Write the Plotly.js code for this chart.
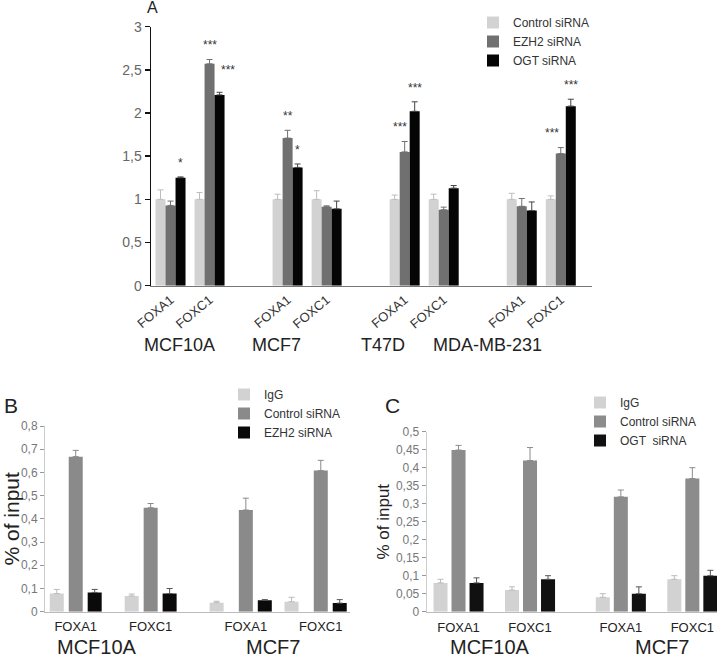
<!DOCTYPE html>
<html>
<head>
<meta charset="utf-8">
<script src="https://cdn.plot.ly/plotly-3.0.1.min.js"></script>
<style>
  html, body { margin: 0; padding: 0; background: #fff; }
  #chart { width: 717px; height: 659px; }
</style>
</head>
<body>
<div id="chart"></div>
<script>
// ---------- Panel A data ----------
const cellLinesA = ['MCF10A', 'MCF7', 'T47D', 'MDA-MB-231'];
const genes = ['FOXA1', 'FOXC1'];
const seriesA = ['Control siRNA', 'EZH2 siRNA', 'OGT siRNA'];
const controlA    = [1.00, 1.00, 1.00, 1.00, 1.00, 1.00, 1.00, 1.00];
const controlAErr = [0.11, 0.08, 0.06, 0.10, 0.05, 0.06, 0.07, 0.04];
const ezh2A       = [0.93, 2.57, 1.71, 0.915, 1.55, 0.88, 0.92, 1.53];
const ezh2AErr    = [0.05, 0.05, 0.09, 0.01, 0.12, 0.03, 0.09, 0.07];
const ogtA        = [1.25, 2.21, 1.37, 0.89, 2.02, 1.13, 0.87, 2.08];
const ogtAErr     = [0.01, 0.03, 0.04, 0.09, 0.11, 0.03, 0.10, 0.08];
const ezh2Sig     = ['', '***', '**', '', '***', '', '', '***'];
const ogtSig      = ['*', '***', '*', '', '***', '', '', '***'];

// ---------- Panel B data ----------
const cellLinesBC = ['MCF10A', 'MCF7'];
const seriesB = ['IgG', 'Control siRNA', 'EZH2 siRNA'];
const iggB     = [0.078, 0.068, 0.039, 0.043];
const iggBErr  = [0.018, 0.008, 0.006, 0.019];
const ctrlB    = [0.668, 0.448, 0.438, 0.608];
const ctrlBErr = [0.027, 0.018, 0.051, 0.044];
const ezh2B    = [0.083, 0.078, 0.049, 0.037];
const ezh2BErr = [0.013, 0.022, 0.003, 0.015];

// ---------- Panel C data ----------
const seriesC = ['IgG', 'Control siRNA', 'OGT  siRNA'];
const iggC     = [0.080, 0.060, 0.040, 0.090];
const iggCErr  = [0.010, 0.009, 0.010, 0.010];
const ctrlC    = [0.449, 0.420, 0.319, 0.370];
const ctrlCErr = [0.013, 0.036, 0.019, 0.030];
const ogtC     = [0.080, 0.090, 0.050, 0.100];
const ogtCErr  = [0.014, 0.010, 0.019, 0.015];

// ---------- positions (derived from group/gene indices) ----------
function positions(nGroups, groupStep) {
  const p = [];
  for (let g = 0; g < nGroups; g++) for (let j = 0; j < genes.length; j++) p.push(g * groupStep + j);
  return p;
}
const posA = positions(cellLinesA.length, 3);
const posBC = positions(cellLinesBC.length, 2.27);
const tickTextA = posA.map((_, i) => genes[i % 2]);
const tickTextBC = posBC.map((_, i) => genes[i % 2]);

const FONT = 'Liberation Sans, Arial, sans-serif';

function barTrace(name, x, y, err, color, errColor, offset, width, xa, ya, legend) {
  return {
    type: 'bar', name: name, x: x, y: y,
    offset: offset, width: width,
    xaxis: xa, yaxis: ya, legend: legend,
    marker: { color: color, line: { width: 0 } },
    error_y: { type: 'data', array: err, arrayminus: y.map(() => 0), symmetric: false,
               visible: true, color: errColor, thickness: 1, width: 3 },
    hoverinfo: 'skip'
  };
}

const wA = 10 / 39;
const wB = 0.187, pB = 0.253;
const wC = 0.196, pC = 0.252;
const iggOffB = posBC.map((p, i) => (i < 2 ? -pB : -0.39) - wB / 2);

const traces = [
  barTrace(seriesA[0], posA, controlA, controlAErr, '#d2d2d2', '#bdbdbd', -1.5 * wA, wA, 'x', 'y', 'legend'),
  barTrace(seriesA[1], posA, ezh2A, ezh2AErr, '#707070', '#707070', -0.5 * wA, wA, 'x', 'y', 'legend'),
  barTrace(seriesA[2], posA, ogtA, ogtAErr, '#050505', '#444444', 0.5 * wA, wA, 'x', 'y', 'legend'),

  barTrace(seriesB[0], posBC, iggB, iggBErr, '#d2d2d2', '#bbbbbb', iggOffB, wB, 'x2', 'y2', 'legend2'),
  barTrace(seriesB[1], posBC, ctrlB, ctrlBErr, '#8a8a8a', '#8a8a8a', -wB / 2, wB, 'x2', 'y2', 'legend2'),
  barTrace(seriesB[2], posBC, ezh2B, ezh2BErr, '#0a0a0a', '#555555', pB - wB / 2, wB, 'x2', 'y2', 'legend2'),

  barTrace(seriesC[0], posBC, iggC, iggCErr, '#d2d2d2', '#bbbbbb', -pC - wC / 2, wC, 'x3', 'y3', 'legend3'),
  barTrace(seriesC[1], posBC, ctrlC, ctrlCErr, '#8c8c8c', '#8c8c8c', -wC / 2, wC, 'x3', 'y3', 'legend3'),
  barTrace(seriesC[2], posBC, ogtC, ogtCErr, '#111111', '#555555', pC - wC / 2, wC, 'x3', 'y3', 'legend3')
];

const annotations = [];
// significance stars (panel A); small pixel nudges to mimic the original placement
const ezh2StarShift = [0, 0, 0, 0, -5, 0, 0, -9];
const ogtStarShift  = [0, 8, 0, 0, 0, 0, 0, 0];
const ogtStarLift   = [0, 8, 0, 0, 0, 0, 0, 0];
function addStars(sig, vals, errs, off, shift, lift) {
  sig.forEach((s, i) => {
    if (!s) return;
    annotations.push({ xref: 'x', yref: 'y', x: posA[i] + off + wA / 2, y: vals[i] + errs[i] + 0.06,
      xshift: shift[i], yshift: lift ? lift[i] : 0,
      text: s, showarrow: false, yanchor: 'bottom', font: { family: FONT, size: 12, color: '#333' } });
  });
}
addStars(ezh2Sig, ezh2A, ezh2AErr, -0.5 * wA, ezh2StarShift, null);
addStars(ogtSig, ogtA, ogtAErr, 0.5 * wA, ogtStarShift, ogtStarLift);

// cell line labels
const labelXA = [0.22, 2.71, 5.45, 8.13];
cellLinesA.forEach((c, i) => annotations.push({ xref: 'x', yref: 'paper', x: labelXA[i], y: 1 - 345 / 659,
  text: c, showarrow: false, yanchor: 'middle', font: { family: FONT, size: 18, color: '#222' } }));
const labelXB = [0.28, 2.63];
cellLinesBC.forEach((c, i) => annotations.push({ xref: 'x2', yref: 'paper', x: labelXB[i], y: 1 - 647 / 659,
  text: c, showarrow: false, yanchor: 'middle', font: { family: FONT, size: 20, color: '#222' } }));
const labelXC = [0.44, 2.85];
cellLinesBC.forEach((c, i) => annotations.push({ xref: 'x3', yref: 'paper', x: labelXC[i], y: 1 - 647 / 659,
  text: c, showarrow: false, yanchor: 'middle', font: { family: FONT, size: 20, color: '#222' } }));

// panel letters
[['A', 152, 8, 16], ['B', 11, 405, 21], ['C', 392, 405, 21]].forEach(l => annotations.push({
  xref: 'paper', yref: 'paper', x: l[1] / 717, y: 1 - l[2] / 659, text: l[0], showarrow: false,
  xanchor: 'center', yanchor: 'middle', font: { family: FONT, size: l[3], color: '#222' } }));

const legendFont = { family: FONT, size: 12, color: '#333' };
const layout = {
  width: 717, height: 659,
  margin: { l: 0, r: 0, t: 0, b: 0 },
  paper_bgcolor: '#fff', plot_bgcolor: 'rgba(0,0,0,0)',
  separators: ', ',
  font: { family: FONT },
  showlegend: true,
  barmode: 'group',
  xaxis: { domain: [151 / 717, 592 / 717], range: [-0.5, 10.8], anchor: 'y',
    showline: true, linecolor: '#777', linewidth: 1.5, showgrid: false, zeroline: false,
    tickmode: 'array', tickvals: posA, ticktext: tickTextA, tickangle: -40, ticks: '',
    tickfont: { family: FONT, size: 13, color: '#333' } },
  yaxis: { domain: [1 - 285.7 / 659, 1 - 26.7 / 659], range: [0, 3], dtick: 0.5, anchor: 'x',
    showline: true, linecolor: '#111', linewidth: 1.5, showgrid: false, zeroline: false,
    ticks: 'outside', ticklen: 5, tickcolor: '#111', tickwidth: 1.5,
    tickfont: { family: FONT, size: 14, color: '#666' } },
  xaxis2: { domain: [45 / 717, 350 / 717], range: [-0.41, 3.66], anchor: 'y2',
    showline: true, linecolor: '#bbb', linewidth: 1, showgrid: false, zeroline: false,
    tickmode: 'array', tickvals: posBC, ticktext: tickTextBC, ticks: '', ticklabelstandoff: 3,
    tickfont: { family: FONT, size: 13, color: '#222' } },
  yaxis2: { domain: [1 - 611.7 / 659, 1 - 426 / 659], range: [0, 0.8], dtick: 0.1, anchor: 'x2',
    showline: true, linecolor: '#ccc', linewidth: 1, showgrid: false, zeroline: false,
    ticks: 'outside', ticklen: 4, tickcolor: '#999',
    tickfont: { family: FONT, size: 12, color: '#777' },
    title: { text: '% of input', font: { family: FONT, size: 21, color: '#222' }, standoff: 0 } },
  xaxis3: { domain: [426.7 / 717, 1], range: [-0.445, 3.615], anchor: 'y3',
    showline: true, linecolor: '#bbb', linewidth: 1, showgrid: false, zeroline: false,
    tickmode: 'array', tickvals: posBC, ticktext: tickTextBC, ticks: '', ticklabelstandoff: 4,
    tickfont: { family: FONT, size: 13, color: '#222' } },
  yaxis3: { domain: [1 - 611.7 / 659, 1 - 431.7 / 659], range: [0, 0.5], dtick: 0.05, anchor: 'x3',
    showline: true, linecolor: '#ccc', linewidth: 1, showgrid: false, zeroline: false,
    ticks: 'outside', ticklen: 4, tickcolor: '#999',
    tickfont: { family: FONT, size: 12, color: '#777' },
    title: { text: '% of input', font: { family: FONT, size: 17, color: '#222' }, standoff: 1 } },
  legend:  { x: 473 / 717, y: 1 - 8 / 659, xanchor: 'left', yanchor: 'top', font: legendFont,
    bgcolor: 'rgba(0,0,0,0)', itemwidth: 30, itemclick: false, itemdoubleclick: false },
  legend2: { x: 224 / 717, y: 1 - 380 / 659, xanchor: 'left', yanchor: 'top', font: legendFont,
    bgcolor: 'rgba(0,0,0,0)', itemwidth: 30 },
  legend3: { x: 580 / 717, y: 1 - 388 / 659, xanchor: 'left', yanchor: 'top', font: legendFont,
    bgcolor: 'rgba(0,0,0,0)', itemwidth: 30 },
  annotations: annotations
};

Plotly.newPlot('chart', traces, layout, { displayModeBar: false, staticPlot: true });
</script>
</body>
</html>
